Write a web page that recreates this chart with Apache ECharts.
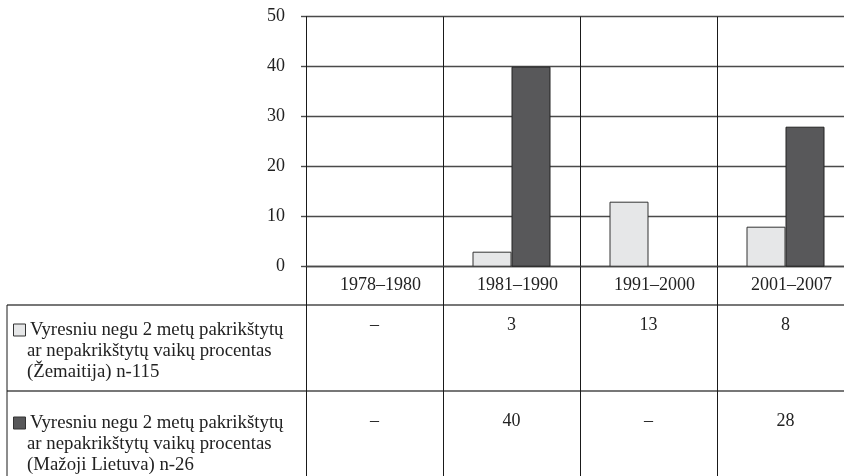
<!DOCTYPE html>
<html>
<head>
<meta charset="utf-8">
<script src="https://cdn.jsdelivr.net/npm/echarts@6/dist/echarts.min.js"></script>
<style>
  html, body { margin: 0; padding: 0; background: #fff; }
  #chart { width: 844px; height: 476px; }
</style>
</head>
<body>
<div id="chart"></div>
<script>
// laikotarpiai
var categories = ["1978–1980", "1981–1990", "1991–2000", "2001–2007"];
// Žemaitija n-115 (null = nėra duomenų)
var zemaitija = [null, 3, 13, 8];
// Mažoji Lietuva n-26
var mazojiLietuva = [null, 40, null, 28];
var yTicks = [0, 10, 20, 30, 40, 50];
// lentelės eilučių tekstai
var rowLabels = [
  ["Vyresniu negu 2 metų pakrikštytų", "ar nepakrikštytų vaikų procentas", "(Žemaitija) n-115"],
  ["Vyresniu negu 2 metų pakrikštytų", "ar nepakrikštytų vaikų procentas", "(Mažoji Lietuva) n-26"]
];

var FONT = "'Liberation Serif', 'DejaVu Serif', serif";
var LIGHT = "#e6e7e8";
var DARK = "#58585a";
var LINE = "#4a4a4a";

window.onload = function () {
  var chart = echarts.init(document.getElementById("chart"));
  var option = {
    animation: false,
    grid: {
      left: 306,
      top: 16.7,
      width: 548,
      height: 250,
      containLabel: false,
      outerBoundsMode: "none"
    },
    xAxis: {
      type: "category",
      data: categories,
      axisLine: { show: true, lineStyle: { color: LINE, width: 1.4 } },
      axisTick: {
        show: true,
        interval: 0,
        length: 212, //竖线延伸到表格底部
        lineStyle: { color: "#1a1a1a", width: 1 }
      },
      splitLine: {
        show: true,
        interval: 0,
        lineStyle: { color: "#1a1a1a", width: 1 }
      },
      axisLabel: {
        interval: 0,
        margin: 10,
        padding: [0, 0, 0, 12],
        color: "#222",
        fontFamily: FONT,
        fontSize: 18
      }
    },
    yAxis: {
      type: "value",
      min: 0,
      max: 50,
      interval: 10,
      axisLine: { show: true, lineStyle: { color: "#1a1a1a", width: 1 } },
      axisTick: { show: true, length: 5, lineStyle: { color: LINE, width: 1.4 } },
      splitLine: { show: true, lineStyle: { color: LINE, width: 1.4 } },
      axisLabel: {
        margin: 21,
        color: "#222",
        fontFamily: FONT,
        fontSize: 18,
        formatter: function (v) {
          return yTicks.indexOf(v) >= 0 ? String(v) : "";
        }
      }
    },
    series: [
      {
        type: "bar",
        data: zemaitija,
        barWidth: 39,
        barGap: "0%",
        itemStyle: { color: LIGHT, borderColor: "#333", borderWidth: 1 }
      },
      {
        type: "bar",
        data: mazojiLietuva,
        barWidth: 39,
        barGap: "0%",
        itemStyle: { color: DARK, borderColor: "#222", borderWidth: 1 }
      }
    ]
  };
  chart.setOption(option);

  //表格部分
  var seriesData = [zemaitija, mazojiLietuva];
  var colors = [LIGHT, DARK];
  var rowTop = [305, 391];
  var firstLineY = [330, 423];
  var valueY = [325.5, 421];
  var elements = [];

  rowTop.forEach(function (y) {
    elements.push({
      type: "line",
      shape: { x1: 7, y1: y, x2: 844, y2: y },
      style: { stroke: LINE, lineWidth: 1.4 }
    });
  });
  elements.push({
    type: "line",
    shape: { x1: 7, y1: 305, x2: 7, y2: 476 },
    style: { stroke: "#1a1a1a", lineWidth: 1 }
  });

  rowLabels.forEach(function (lines, r) {
    var y0 = firstLineY[r];
    elements.push({
      type: "rect",
      shape: { x: 13.5, y: y0 - 6, width: 12, height: 12 },
      style: { fill: colors[r], stroke: "#333", lineWidth: 1 }
    });
    lines.forEach(function (t, i) {
      elements.push({
        type: "text",
        x: i === 0 ? 30 : 27,
        y: y0 + i * 21,
        style: {
          text: t,
          fill: "#222",
          font: "18.8px " + FONT,
          textAlign: "left",
          textVerticalAlign: "middle"
        }
      });
    });
    categories.forEach(function (c, i) {
      var v = seriesData[r][i];
      var x = chart.convertToPixel({ xAxisIndex: 0 }, c);
      elements.push({
        type: "text",
        x: x,
        y: valueY[r],
        style: {
          text: v == null ? "–" : String(v),
          fill: "#222",
          font: "18px " + FONT,
          textAlign: "center",
          textVerticalAlign: "middle"
        }
      });
    });
  });

  chart.setOption({ graphic: { elements: elements } });

  window.onresize = function () {
    chart.resize();
  };
};
</script>
</body>
</html>
